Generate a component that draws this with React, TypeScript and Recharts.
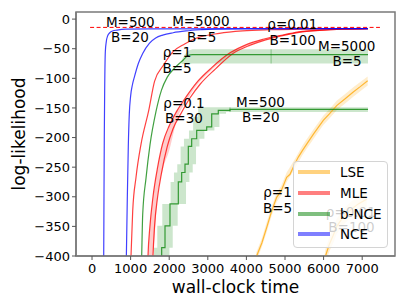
import React from 'react';
import {
  ComposedChart,
  Line,
  Area,
  XAxis,
  YAxis,
  ReferenceDot,
  ReferenceArea,
  Legend,
  Label,
} from 'recharts';

const FONT = '"DejaVu Sans", Verdana, sans-serif';
const FRAME = '#7a7a7a';

const xTicks = [0, 1000, 2000, 3000, 4000, 5000, 6000, 7000];
const yTicks = [0, -50, -100, -150, -200, -250, -300, -350, -400];

// NCE (blue)
const nceM500 = [
  { t: 300, y: -420 }, { t: 303, y: -400 }, { t: 310, y: -300 }, { t: 318, y: -200 },
  { t: 328, y: -120 }, { t: 345, y: -55 }, { t: 370, y: -38 }, { t: 406, y: -28 },
  { t: 460, y: -23 }, { t: 535, y: -20 }, { t: 650, y: -18.5 }, { t: 880, y: -17 },
  { t: 1500, y: -16.5 }, { t: 7150, y: -16 },
];
const nceM5000 = [
  { t: 885, y: -420 }, { t: 890, y: -400 }, { t: 915, y: -300 }, { t: 940, y: -215 },
  { t: 966, y: -160 }, { t: 1000, y: -130 }, { t: 1050, y: -110 }, { t: 1097, y: -98 },
  { t: 1200, y: -75 }, { t: 1313, y: -58 }, { t: 1485, y: -41 }, { t: 1650, y: -32 },
  { t: 1830, y: -27 }, { t: 2100, y: -23 }, { t: 2435, y: -20 }, { t: 2800, y: -18 },
  { t: 3135, y: -16.8 }, { t: 4000, y: -16.3 }, { t: 7150, y: -16 },
];

// MLE (red)
const mleRho1 = [
  { t: 1000, y: -420 }, { t: 1010, y: -400 }, { t: 1054, y: -324 }, { t: 1140, y: -267 },
  { t: 1270, y: -211 }, { t: 1470, y: -154 }, { t: 1620, y: -105 }, { t: 1850, y: -78 },
  { t: 2100, y: -55 }, { t: 2400, y: -42 }, { t: 2712, y: -32 }, { t: 3300, y: -24 },
  { t: 3900, y: -20 }, { t: 4600, y: -18 }, { t: 5400, y: -17 }, { t: 7150, y: -16 },
];
const mleRho01 = [
  { t: 1440, y: -420 }, { t: 1450, y: -400 }, { t: 1500, y: -350 }, { t: 1580, y: -300 },
  { t: 1700, y: -250 }, { t: 1830, y: -210 }, { t: 2000, y: -180 }, { t: 2200, y: -155 },
  { t: 2450, y: -130 }, { t: 2700, y: -108 }, { t: 3100, y: -82 }, { t: 3575, y: -57 },
  { t: 4000, y: -43 }, { t: 4430, y: -34 }, { t: 5000, y: -26 }, { t: 5400, y: -21 },
  { t: 5850, y: -19 }, { t: 6500, y: -17 }, { t: 7150, y: -16 },
];
const mleRho001 = [
  { t: 1570, y: -420 }, { t: 1580, y: -400 }, { t: 1620, y: -350 }, { t: 1700, y: -300 },
  { t: 1800, y: -260 }, { t: 1950, y: -215 }, { t: 2100, y: -185 }, { t: 2300, y: -160 },
  { t: 2550, y: -132 }, { t: 2800, y: -110 }, { t: 3200, y: -84 }, { t: 3650, y: -58 },
  { t: 4100, y: -44 }, { t: 4500, y: -35 }, { t: 5000, y: -27 }, { t: 5500, y: -21 },
  { t: 5900, y: -19 }, { t: 6500, y: -17 }, { t: 7150, y: -16 },
];
const mleBand = [
  { t: 1450, r: [-420, -400] }, { t: 1500, r: [-420, -350] }, { t: 1580, r: [-400, -300] },
  { t: 1700, r: [-300, -250] }, { t: 1830, r: [-255, -210] }, { t: 2000, r: [-222, -180] },
  { t: 2200, r: [-170, -155] }, { t: 2450, r: [-138, -130] }, { t: 2700, r: [-113, -108] },
  { t: 3100, r: [-86, -82] }, { t: 3575, r: [-60, -57] }, { t: 4000, r: [-46, -43] },
  { t: 4500, r: [-35, -33] }, { t: 5000, r: [-27, -26] }, { t: 5500, r: [-21, -20.5] },
  { t: 6500, r: [-17, -17] },
];

// b-NCE (green)
const bnceM5000 = [
  { t: 1280, y: -420 }, { t: 1287, y: -400 }, { t: 1313, y: -330 }, { t: 1400, y: -268 },
  { t: 1503, y: -212 }, { t: 1658, y: -156 }, { t: 1800, y: -120 }, { t: 1950, y: -98 },
  { t: 2150, y: -82 }, { t: 2365, y: -69 }, { t: 2500, y: -61 }, { t: 2600, y: -60 },
  { t: 7150, y: -60 },
];
const bnceM5000Band = [
  { t: 2320, r: [-76, -70] }, { t: 2400, r: [-76, -60] }, { t: 2500, r: [-76, -53] },
  { t: 2600, r: [-75, -51] }, { t: 7150, r: [-75, -51] },
];
const bnceM5000Tick = [{ t: 4640, y: -51 }, { t: 4640, y: -75 }];
const bnceM500 = [
  { t: 1700, y: -420 }, { t: 1805, y: -386 }, { t: 1891, y: -349 }, { t: 2020, y: -312 },
  { t: 2236, y: -275 }, { t: 2323, y: -259 }, { t: 2409, y: -245 }, { t: 2495, y: -215 },
  { t: 2582, y: -202 }, { t: 2712, y: -188 }, { t: 2971, y: -182 }, { t: 3101, y: -160 },
  { t: 3272, y: -154 }, { t: 3575, y: -152.5 }, { t: 7150, y: -152.5 },
];
const bnceM500Band = [
  { t: 1605, r: [-420, -386] }, { t: 1691, r: [-420, -349] }, { t: 1820, r: [-420, -312] },
  { t: 2005, r: [-386, -312] }, { t: 2036, r: [-386, -275] }, { t: 2091, r: [-349, -275] },
  { t: 2123, r: [-349, -259] }, { t: 2209, r: [-349, -245] }, { t: 2220, r: [-312, -245] },
  { t: 2295, r: [-312, -215] }, { t: 2382, r: [-312, -202] }, { t: 2436, r: [-275, -202] },
  { t: 2512, r: [-275, -188] }, { t: 2523, r: [-259, -188] }, { t: 2609, r: [-245, -188] },
  { t: 2620, r: [-245, -165] }, { t: 2695, r: [-215, -165] }, { t: 2750, r: [-215, -149] },
  { t: 2782, r: [-202, -149] }, { t: 2912, r: [-188, -149] }, { t: 3171, r: [-182, -149] },
  { t: 3301, r: [-160, -149] }, { t: 3472, r: [-157, -149] }, { t: 7150, r: [-157, -149] },
];
const bnceM500Tick = [{ t: 3575, y: -149 }, { t: 3575, y: -157 }];

// LSE (orange)
const lseRho1 = [
  { t: 4250, y: -420 }, { t: 4266, y: -400 }, { t: 4400, y: -378 }, { t: 4525, y: -352 },
  { t: 4650, y: -325 }, { t: 4784, y: -301 }, { t: 4900, y: -290 }, { t: 5043, y: -267 },
  { t: 5130, y: -262 }, { t: 5250, y: -245 }, { t: 5345, y: -233 }, { t: 5450, y: -222 },
  { t: 5562, y: -211 }, { t: 5750, y: -193 }, { t: 5992, y: -171 }, { t: 6150, y: -160 },
  { t: 6339, y: -146 }, { t: 6550, y: -135 }, { t: 6769, y: -123 }, { t: 6950, y: -114 },
  { t: 7142, y: -104 },
];
const lseRho1Band = [
  { t: 4250, r: [-410, -395] }, { t: 4400, r: [-385, -370] }, { t: 4525, r: [-360, -343] },
  { t: 4650, r: [-333, -317] }, { t: 4784, r: [-309, -293] }, { t: 4900, r: [-298, -282] },
  { t: 5043, r: [-275, -259] }, { t: 5250, r: [-253, -237] }, { t: 5450, r: [-230, -214] },
  { t: 5562, r: [-219, -203] }, { t: 5750, r: [-201, -185] }, { t: 5992, r: [-179, -163] },
  { t: 6150, r: [-168, -152] }, { t: 6339, r: [-154, -138] }, { t: 6550, r: [-143, -127] },
  { t: 6769, r: [-131, -115] }, { t: 6950, r: [-122, -106] }, { t: 7142, r: [-112, -97] },
];
const lseRho001 = [
  { t: 6000, y: -420 }, { t: 6050, y: -400 }, { t: 6150, y: -380 }, { t: 6250, y: -365 },
  { t: 6340, y: -350 }, { t: 6500, y: -335 }, { t: 6700, y: -322 }, { t: 6900, y: -312 },
  { t: 7117, y: -304 },
];
const lseRho001Band = [
  { t: 6000, r: [-430, -410] }, { t: 6050, r: [-412, -388] }, { t: 6150, r: [-392, -368] },
  { t: 6250, r: [-378, -352] }, { t: 6340, r: [-363, -337] }, { t: 6500, r: [-348, -322] },
  { t: 6700, r: [-335, -309] }, { t: 6900, r: [-325, -299] }, { t: 7117, r: [-317, -291] },
];

// true log-likelihood
const trueLL = [{ t: -50, y: -14 }, { t: 7460, y: -14 }];

const annotations = [
  { t: 992, y: -12.8, text: 'M=500', faded: false },
  { t: 984, y: -38.2, text: 'B=20', faded: false },
  { t: 2819, y: -11.7, text: 'M=5000', faded: false },
  { t: 2842, y: -38.2, text: 'B=5', faded: false },
  { t: 5189, y: -17.2, text: 'ρ=0.01', faded: false },
  { t: 5200, y: -43.8, text: 'B=100', faded: false },
  { t: 6598, y: -53.4, text: 'M=5000', faded: false },
  { t: 6606, y: -79.2, text: 'B=5', faded: false },
  { t: 2202, y: -63.5, text: 'ρ=1', faded: false },
  { t: 2202, y: -91.6, text: 'B=5', faded: false },
  { t: 2383, y: -150.7, text: 'ρ=0.1', faded: false },
  { t: 2383, y: -176, text: 'B=30', faded: false },
  { t: 4365, y: -148, text: 'M=500', faded: false },
  { t: 4373, y: -173.3, text: 'B=20', faded: false },
  { t: 4806, y: -300, text: 'ρ=1', faded: false },
  { t: 4806, y: -327, text: 'B=5', faded: false },
  { t: 6705, y: -333.8, text: 'ρ=0.01', faded: false },
  { t: 6723, y: -359, text: 'B=100', faded: false },
];

const legendNames = ['LSE', 'MLE', 'b-NCE', 'NCE'];
const legendColors = ['#ffa500', '#ff0000', '#008000', '#0000ff'];

const fmtY = (v: number) => (v < 0 ? '\u2212' + Math.abs(v) : String(v));

const renderLegend = () => (
  <div
    style={{
      boxSizing: 'border-box',
      position: 'relative',
      width: 95,
      height: 87,
      border: '1px solid #d4d4d4',
      borderRadius: 4,
      background: 'rgba(255,255,255,0.8)',
      fontFamily: FONT,
      fontSize: 13.5,
      color: '#000',
    }}
  >
    {legendNames.map((name, i) => (
      <div
        key={name}
        style={{
          position: 'absolute',
          left: 4,
          top: [11.3, 31.7, 53, 73.3][i] - 10 - 1,
          height: 20,
          display: 'flex',
          alignItems: 'center',
          whiteSpace: 'nowrap',
        }}
      >
        <span
          style={{
            display: 'inline-block',
            width: 32,
            height: 4,
            background: legendColors[i],
            opacity: 0.5,
            marginRight: 10,
          }}
        />
        <span>{name}</span>
      </div>
    ))}
  </div>
);

const renderXLabel = (props: any) => {
  const vb = props.viewBox || {};
  return (
    <text
      x={vb.x + vb.width / 2}
      y={vb.y + 37.2}
      textAnchor="middle"
      fontSize={17}
      fontFamily={FONT}
      fill="#000"
    >
      wall-clock time
    </text>
  );
};

const renderYLabel = (props: any) => {
  const vb = props.viewBox || {};
  const cx = vb.x + 25;
  const cy = vb.y + vb.height / 2;
  return (
    <text
      x={cx}
      y={cy}
      transform={`rotate(-90, ${cx}, ${cy})`}
      textAnchor="middle"
      fontSize={17}
      fontFamily={FONT}
      fill="#000"
    >
      log-likelihood
    </text>
  );
};

const lineProps = {
  dataKey: 'y',
  dot: false,
  activeDot: false,
  isAnimationActive: false,
  strokeWidth: 1.2,
  legendType: 'none' as const,
};

const bandProps = {
  dataKey: 'r',
  stroke: 'none',
  dot: false,
  activeDot: false,
  isAnimationActive: false,
  legendType: 'none' as const,
};

export default function App() {
  return (
    <div
      style={{
        position: 'absolute',
        left: 0,
        top: 0,
        width: 407,
        height: 305,
        background: '#fff',
        fontFamily: FONT,
      }}
    >
      <ComposedChart width={407} height={305} margin={{ top: 12, right: 12, bottom: 0, left: 0 }}>
        <XAxis
          dataKey="t"
          type="number"
          domain={[-415, 7850]}
          allowDataOverflow
          ticks={xTicks}
          interval={0}
          height={49}
          tickSize={4}
          tickMargin={3.5}
          tick={{ fill: '#000', fontSize: 13, fontFamily: FONT }}
          axisLine={{ stroke: FRAME, strokeWidth: 1.5 }}
          tickLine={{ stroke: '#555' }}
        >
          <Label content={renderXLabel} />
        </XAxis>
        <YAxis
          type="number"
          domain={[-400, 12]}
          allowDataOverflow
          ticks={yTicks}
          interval={0}
          width={76}
          tickSize={4}
          tickMargin={2}
          tickFormatter={fmtY}
          tick={{ fill: '#000', fontSize: 13, fontFamily: FONT }}
          axisLine={{ stroke: FRAME, strokeWidth: 1.5 }}
          tickLine={{ stroke: '#555' }}
        >
          <Label content={renderYLabel} />
        </YAxis>

        {/* bands */}
        <Area {...bandProps} data={lseRho1Band} type="linear" fill="#ffa500" fillOpacity={0.2} />
        <Area {...bandProps} data={lseRho001Band} type="linear" fill="#ffa500" fillOpacity={0.2} />
        <Area {...bandProps} data={mleBand} type="monotone" fill="#ff0000" fillOpacity={0.2} />
        <Area {...bandProps} data={bnceM5000Band} type="linear" fill="#008000" fillOpacity={0.2} />
        <Area {...bandProps} data={bnceM500Band} type="stepAfter" fill="#008000" fillOpacity={0.2} />

        {/* LSE */}
        <Line {...lineProps} data={lseRho1} type="linear" stroke="#ffa500" strokeOpacity={0.75} />
        <Line {...lineProps} data={lseRho001} type="linear" stroke="#ffa500" strokeOpacity={0.75} />
        {/* MLE */}
        <Line {...lineProps} data={mleRho1} type="monotone" stroke="#ff0000" strokeOpacity={0.75} />
        <Line {...lineProps} data={mleRho01} type="monotone" stroke="#ff0000" strokeOpacity={0.75} />
        <Line {...lineProps} data={mleRho001} type="monotone" stroke="#ff0000" strokeOpacity={0.75} />
        {/* b-NCE */}
        <Line {...lineProps} data={bnceM5000} type="monotone" stroke="#008000" strokeOpacity={0.75} />
        <Line {...lineProps} data={bnceM5000Tick} type="linear" stroke="#008000" strokeOpacity={0.35} strokeWidth={1} />
        <Line {...lineProps} data={bnceM500} type="stepAfter" stroke="#008000" strokeOpacity={0.75} />
        <Line {...lineProps} data={bnceM500Tick} type="linear" stroke="#008000" strokeOpacity={0.35} strokeWidth={1} />
        {/* NCE */}
        <Line {...lineProps} data={nceM500} type="monotone" stroke="#0000ff" strokeOpacity={0.75} />
        <Line {...lineProps} data={nceM5000} type="monotone" stroke="#0000ff" strokeOpacity={0.75} />
        {/* true log-likelihood */}
        <Line {...lineProps} data={trueLL} type="linear" stroke="#ff0000" strokeWidth={1} strokeDasharray="4 2.5" />

        <ReferenceArea
          x1={-415}
          x2={7850}
          y1={-400}
          y2={12}
          fill="none"
          fillOpacity={0}
          stroke={FRAME}
          strokeWidth={1.5}
          ifOverflow="visible"
        />

        {annotations.map((a, i) => (
          <ReferenceDot
            key={i}
            x={a.t}
            y={a.y}
            r={0}
            ifOverflow="visible"
            shape={(p: any) => (
              <text
                x={p.cx}
                y={p.cy}
                textAnchor="middle"
                fontSize={13.5}
                fontFamily={FONT}
                fill="#000"
              >
                {a.text}
              </text>
            )}
          />
        ))}

        <Legend
          layout="horizontal"
          verticalAlign="middle"
          align="center"
          width={95}
          height={87}
          content={renderLegend}
          wrapperStyle={{ left: 293, top: 161, width: 95, height: 87, right: 'auto', bottom: 'auto' }}
        />
      </ComposedChart>
    </div>
  );
}
